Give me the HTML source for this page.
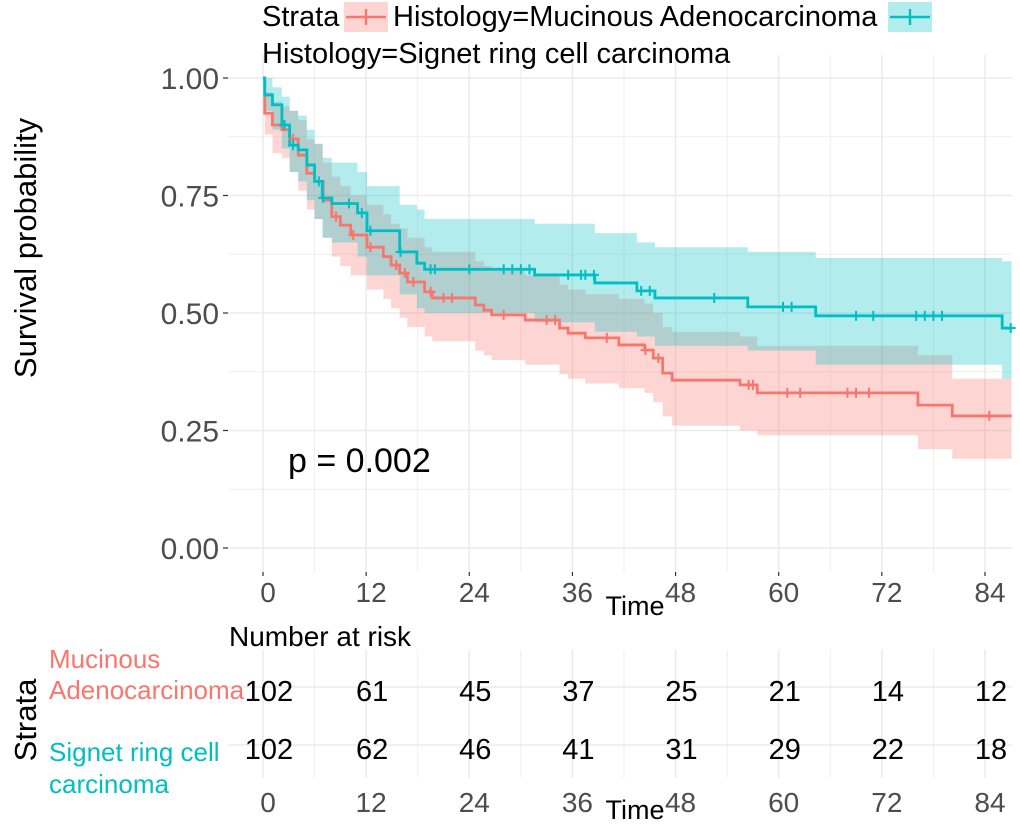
<!DOCTYPE html>
<html><head><meta charset="utf-8"><style>
body{margin:0;background:#fff;font-family:"Liberation Sans",sans-serif}
svg text{font-family:"Liberation Sans",sans-serif}
</style></head><body>
<svg id="c" width="1020" height="828" xmlns="http://www.w3.org/2000/svg"></svg>
<script>
const tTicks=[0,12,24,36,48,60,72,84];
const sTicks=[0,0.25,0.5,0.75,1];
const sLabels=["0.00","0.25","0.50","0.75","1.00"];
// step data (time, survival, lower, upper)
const redT=[0,0.2,1.1,2.2,3.1,4.1,5.1,6,7,8,9,10.2,12.1,14,14.9,15.9,16.8,18.8,19.7,24.7,25.7,26.6,30.5,34.5,35.5,37.5,41.4,44.4,45.4,46.5,47.6,55.5,57.5,76.2,80.2];
const redS=[1,0.925,0.9,0.89,0.87,0.836,0.797,0.78,0.74,0.705,0.687,0.666,0.64,0.62,0.602,0.585,0.566,0.545,0.532,0.517,0.506,0.496,0.485,0.468,0.457,0.447,0.432,0.421,0.404,0.372,0.357,0.347,0.33,0.304,0.281];
const redLo=[1,0.88,0.84,0.83,0.8,0.76,0.72,0.7,0.66,0.62,0.6,0.58,0.55,0.53,0.51,0.49,0.47,0.45,0.44,0.42,0.41,0.4,0.39,0.37,0.36,0.35,0.34,0.33,0.31,0.28,0.26,0.25,0.24,0.21,0.19];
const redHi=[1,0.97,0.95,0.94,0.93,0.91,0.87,0.86,0.82,0.79,0.77,0.75,0.73,0.71,0.69,0.68,0.66,0.64,0.63,0.61,0.6,0.59,0.58,0.56,0.55,0.54,0.53,0.52,0.5,0.47,0.46,0.45,0.43,0.41,0.36];
const tealT=[0,0.2,1.1,2.2,3.1,4.1,5.1,6,6.9,8,11,12.1,15.9,17.9,18.8,31.6,38.6,43.5,45.6,56.4,64.3,86];
const tealS=[1,0.964,0.943,0.9,0.857,0.847,0.815,0.78,0.745,0.733,0.713,0.675,0.63,0.606,0.593,0.581,0.564,0.547,0.532,0.513,0.494,0.468];
const tealLo=[1,0.93,0.89,0.85,0.8,0.78,0.74,0.7,0.66,0.65,0.62,0.58,0.54,0.51,0.5,0.48,0.46,0.45,0.43,0.42,0.39,0.36];
const tealHi=[1,1,0.98,0.96,0.93,0.92,0.89,0.86,0.83,0.82,0.8,0.77,0.73,0.72,0.7,0.69,0.67,0.65,0.64,0.63,0.617,0.61];
const redCens=[3.5,8.5,10.5,12.5,15.5,16.5,17.5,19.5,21,22,28,33,34,40,44.5,46,56.5,57,61,62.5,68,69,70.5,84.5];
const tealCens=[2.5,3.5,6.5,7,10,11.5,12.5,16,19.5,20,24,28,29,30,31,35.5,37,37.5,38.5,44,45,52.5,60.5,61.5,69,71,76,77,78,79,87];
const riskRed=[102,61,45,37,25,21,14,12];
const riskTeal=[102,62,46,41,31,29,22,18];
const RED="#F8766D",TEAL="#00BFC4";
const X=t=>263+t*8.595, Y=s=>548-s*470;
const svg=document.getElementById('c');const NS="http://www.w3.org/2000/svg";
function mk(tag,attrs,parent,name,inter){const e=document.createElementNS(NS,tag);for(const k in attrs)e.setAttribute(k,attrs[k]);(parent||svg).appendChild(e);


return e;}
function txt(x,y,s,attrs,name){const e=mk('text',Object.assign({x:x,y:y},attrs),null,name,false);e.textContent=s;return e;}
const L=228,R=1012,T=55,B=572,TMAX=87.1;
for(let i=0;i<16;i++){const t=i*6; if(t>TMAX)break;const major=t%12===0;
mk('line',{x1:X(t),x2:X(t),y1:T,y2:B,stroke:'#ebebeb','stroke-width':major?1.6:0.8},null,'grid-x',false);}
for(let i=0;i<9;i++){const s=i*0.125;const major=i%2===0;
mk('line',{x1:L,x2:R,y1:Y(s),y2:Y(s),stroke:'#ebebeb','stroke-width':major?1.6:0.8},null,'grid-y',false);}
function stepPath(T_,V,end){let d=`M${X(T_[0])},${Y(V[0])}`;for(let i=1;i<T_.length;i++){d+=`H${X(T_[i])}V${Y(V[i])}`;}d+=`H${X(end)}`;return d;}
function band(T_,lo,hi,end){let d=`M${X(T_[0])},${Y(hi[0])}`;for(let i=1;i<T_.length;i++)d+=`H${X(T_[i])}V${Y(hi[i])}`;d+=`H${X(end)}V${Y(lo[lo.length-1])}`;
for(let i=T_.length-1;i>=1;i--)d+=`H${X(T_[i])}V${Y(lo[i-1])}`;d+=`H${X(T_[0])}Z`;return d;}
mk('path',{d:band(redT,redLo,redHi,TMAX),fill:RED,'fill-opacity':0.3},null,'red-ci-band',false);
mk('path',{d:band(tealT,tealLo,tealHi,TMAX),fill:TEAL,'fill-opacity':0.3},null,'teal-ci-band',false);
mk('path',{d:stepPath(redT,redS,TMAX),fill:'none',stroke:RED,'stroke-width':2.8},null,'mucinous-curve',false);
mk('path',{d:stepPath(tealT,tealS,TMAX),fill:'none',stroke:TEAL,'stroke-width':2.8},null,'signet-curve',false);
function sAt(T_,V,t){let v=V[0];for(let i=0;i<T_.length;i++)if(T_[i]<=t)v=V[i];return v;}
redCens.forEach(t=>{const x=X(t),y=Y(sAt(redT,redS,t));mk('path',{d:`M${x-5},${y}H${x+5}M${x},${y-5}V${y+5}`,stroke:RED,'stroke-width':2},null,'censor-mark-red',false);});
tealCens.forEach(t=>{const x=X(t),y=Y(sAt(tealT,tealS,t));mk('path',{d:`M${x-5},${y}H${x+5}M${x},${y-5}V${y+5}`,stroke:TEAL,'stroke-width':2},null,'censor-mark-teal',false);});
sTicks.forEach((s,i)=>{txt(219,Y(s)+11,sLabels[i],{'font-size':30,fill:'#4d4d4d','text-anchor':'end'},'y-tick-label');
mk('line',{x1:223,x2:L,y1:Y(s),y2:Y(s),stroke:'#333','stroke-width':1.2},null,'y-tick',false);});
tTicks.forEach(t=>{txt(X(t)+5,602,String(t),{'font-size':28,fill:'#4d4d4d','text-anchor':'middle'},'x-tick-label');
mk('line',{x1:X(t),x2:X(t),y1:B,y2:B+4,stroke:'#333','stroke-width':1.2},null,'x-tick',false);});
txt(635,615,'Time',{'font-size':27,fill:'#000','text-anchor':'middle'},'x-axis-title');
txt(36,248,'Survival probability',{'font-size':31,fill:'#000','text-anchor':'middle',transform:'rotate(-90 36 248)'},'y-axis-title');
txt(288,472,'p = 0.002',{'font-size':34,fill:'#000'},'p-value');
txt(262,26,'Strata',{'font-size':29,fill:'#000'},'legend-title');
mk('rect',{x:344,y:2,width:44,height:30,fill:RED,'fill-opacity':0.3},null,'legend-key-red',false);
mk('path',{d:'M346,17H386M366,9V25',stroke:RED,'stroke-width':2.4},null,'legend-key-red-line',false);
txt(393,26,'Histology=Mucinous Adenocarcinoma',{'font-size':29,fill:'#000'},'legend-entry-mucinous');
mk('rect',{x:888,y:2,width:44,height:30,fill:TEAL,'fill-opacity':0.3},null,'legend-key-teal',false);
mk('path',{d:'M890,17H930M910,9V25',stroke:TEAL,'stroke-width':2.4},null,'legend-key-teal-line',false);
txt(262,63,'Histology=Signet ring cell carcinoma',{'font-size':29,fill:'#000'},'legend-entry-signet');
txt(229,646,'Number at risk',{'font-size':28,fill:'#000'},'risk-table-title');
for(let i=0;i<16;i++){const t=i*6;if(t>TMAX)break;mk('line',{x1:X(t),x2:X(t),y1:650,y2:778,stroke:'#ebebeb','stroke-width':t%12===0?1.6:0.8},null,'risk-grid-x',false);}
mk('line',{x1:L,x2:R,y1:687,y2:687,stroke:'#ebebeb','stroke-width':1.6},null,'risk-grid-y',false);
mk('line',{x1:L,x2:R,y1:745,y2:745,stroke:'#ebebeb','stroke-width':1.6},null,'risk-grid-y',false);
riskRed.forEach((v,i)=>txt(X(tTicks[i])+6,701,String(v),{'font-size':29,fill:'#000','text-anchor':'middle'},'risk-count-mucinous'));
riskTeal.forEach((v,i)=>txt(X(tTicks[i])+6,759,String(v),{'font-size':29,fill:'#000','text-anchor':'middle'},'risk-count-signet'));
txt(49,668,'Mucinous',{'font-size':26,fill:RED},'risk-label-mucinous');
txt(49,699,'Adenocarcinoma',{'font-size':26,fill:RED},'risk-label-mucinous');
txt(49,761,'Signet ring cell',{'font-size':26,fill:TEAL},'risk-label-signet');
txt(49,793,'carcinoma',{'font-size':26,fill:TEAL},'risk-label-signet');
txt(36,720,'Strata',{'font-size':31,fill:'#000','text-anchor':'middle',transform:'rotate(-90 36 720)'},'risk-y-title');
tTicks.forEach(t=>txt(X(t)+5,812,String(t),{'font-size':28,fill:'#4d4d4d','text-anchor':'middle'},'risk-x-tick-label'));
txt(635,819,'Time',{'font-size':27,fill:'#000','text-anchor':'middle'},'risk-x-axis-title');
</script>
</body></html>
